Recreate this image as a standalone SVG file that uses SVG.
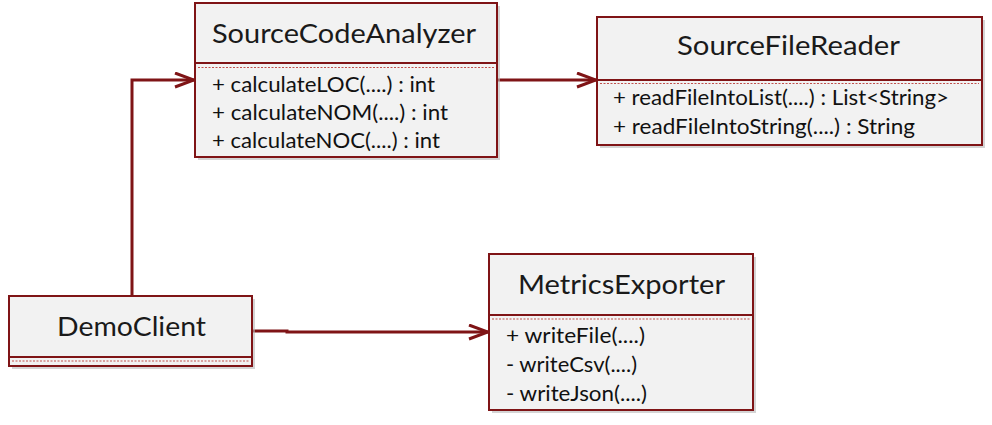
<svg xmlns="http://www.w3.org/2000/svg" width="992" height="425" viewBox="0 0 992 425">
<defs>
<style>
.box{fill:#f2f2f2;stroke:#7f1416;stroke-width:2}
.shadow{fill:#b8b8b8;opacity:0.6}
.div{stroke:#7f1416;stroke-width:2}
.dot{stroke:#c0504d;stroke-width:1;stroke-dasharray:2 1.5}
.title{font-family:Lato,"Open Sans","Liberation Sans",sans-serif;font-size:26.5px;fill:#1a1a1a}
.m{font-family:Lato,"Open Sans","Liberation Sans",sans-serif;font-size:20.5px;fill:#111}
.conn{fill:none;stroke:#7f1416;stroke-width:3}
</style>
<marker id="arr" markerWidth="22" markerHeight="18" refX="20" refY="8" orient="auto" markerUnits="userSpaceOnUse">
<path d="M1,1 L20,8 L1,15" fill="none" stroke="#7f1416" stroke-width="3"/>
</marker>
</defs>
<rect width="992" height="425" fill="#ffffff"/>
<g id="connectors">
<polyline class="conn" points="132,296 132,80 194,80" marker-end="url(#arr)"/>
<polyline class="conn" points="497,80 596,80" marker-end="url(#arr)"/>
<polyline class="conn" points="252,331 287,331 287,332 488,332" marker-end="url(#arr)"/>
</g>
<g id="SourceCodeAnalyzer">
<rect class="shadow" x="198" y="6" width="302" height="154"/>
<rect class="box" x="195" y="3" width="302" height="154"/>
<line class="div" x1="195" y1="63" x2="497" y2="63"/>
<line class="dot" x1="198" y1="67.5" x2="494" y2="67.5"/>
<text class="title" x="212" y="43" textLength="264" lengthAdjust="spacingAndGlyphs">SourceCodeAnalyzer</text>
<text class="m" x="212" y="92" textLength="223" lengthAdjust="spacingAndGlyphs">+ calculateLOC(....) : int</text>
<text class="m" x="212" y="120" textLength="236" lengthAdjust="spacingAndGlyphs">+ calculateNOM(....) : int</text>
<text class="m" x="212" y="148" textLength="228" lengthAdjust="spacingAndGlyphs">+ calculateNOC(....) : int</text>
</g>
<g id="SourceFileReader">
<rect class="shadow" x="600" y="20" width="385" height="128"/>
<rect class="box" x="597" y="17" width="385" height="128"/>
<line class="div" x1="597" y1="80" x2="982" y2="80"/>
<line class="dot" x1="600" y1="83.5" x2="979" y2="83.5"/>
<text class="title" x="677" y="55" textLength="223" lengthAdjust="spacingAndGlyphs">SourceFileReader</text>
<text class="m" x="613" y="105" textLength="336" lengthAdjust="spacingAndGlyphs">+ readFileIntoList(....) : List&lt;String&gt;</text>
<text class="m" x="613" y="134" textLength="302" lengthAdjust="spacingAndGlyphs">+ readFileIntoString(....) : String</text>
</g>
<g id="DemoClient">
<rect class="shadow" x="12" y="299" width="243" height="70"/>
<rect class="box" x="9" y="296" width="243" height="70"/>
<line class="div" x1="9" y1="357" x2="252" y2="357"/>
<line class="dot" x1="12" y1="361" x2="249" y2="361"/>
<text class="title" x="57" y="336" textLength="149" lengthAdjust="spacingAndGlyphs">DemoClient</text>
</g>
<g id="MetricsExporter">
<rect class="shadow" x="492" y="257" width="264" height="156"/>
<rect class="box" x="489" y="254" width="264" height="156"/>
<line class="div" x1="489" y1="315" x2="753" y2="315"/>
<line class="dot" x1="492" y1="319" x2="750" y2="319"/>
<text class="title" x="518" y="294" textLength="207" lengthAdjust="spacingAndGlyphs">MetricsExporter</text>
<text class="m" x="506" y="343" textLength="139" lengthAdjust="spacingAndGlyphs">+ writeFile(....)</text>
<text class="m" x="506" y="372" textLength="131" lengthAdjust="spacingAndGlyphs">- writeCsv(....)</text>
<text class="m" x="506" y="401" textLength="141" lengthAdjust="spacingAndGlyphs">- writeJson(....)</text>
</g>
</svg>
